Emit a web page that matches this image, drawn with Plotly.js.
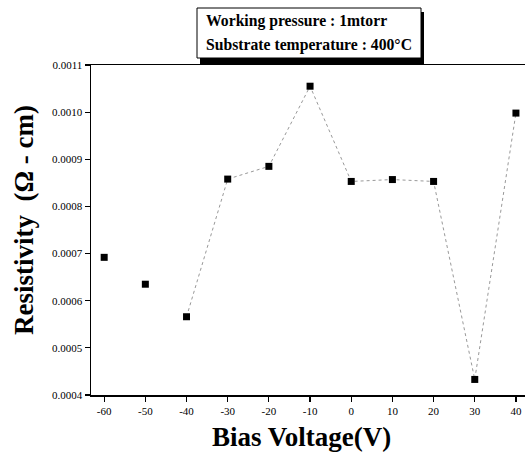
<!DOCTYPE html>
<html>
<head>
<meta charset="utf-8">
<script src="https://cdn.plot.ly/plotly-3.0.1.min.js"></script>
<style>html,body{margin:0;padding:0;background:#fff;}#chart{width:528px;height:454px;}</style>
</head>
<body>
<div id="chart"></div>
<script>
// Data
const isolatedVoltage = [-60, -50];
const isolatedResistivity = [0.000692, 0.000635];
const linkedVoltage = [-40, -30, -20, -10, 0, 10, 20, 30, 40];
const linkedResistivity = [0.000566, 0.000858, 0.000885, 0.001055, 0.000853, 0.000857, 0.000853, 0.000433, 0.000998];
const xTickVals = [-60, -50, -40, -30, -20, -10, 0, 10, 20, 30, 40];
const xTickText = ['-60', '-50', '-40', '-30', '-20', '-10', '0', '10', '20', '30', '40'];
const yTickVals = [0.0004, 0.0005, 0.0006, 0.0007, 0.0008, 0.0009, 0.0010, 0.0011];
const yTickText = ['0.0004', '0.0005', '0.0006', '0.0007', '0.0008', '0.0009', '0.0010', '0.0011'];
const infoLines = ['Working pressure : 1mtorr', 'Substrate temperature : 400°C'];
const xTitle = 'Bias Voltage(V)';
const yTitle = 'Resistivity  (Ω - cm)';

const W = 528, H = 454;
const m = {l: 91, r: 3, t: 65, b: 59};
const pw = W - m.l - m.r, ph = H - m.t - m.b;
const px = v => (v - m.l) / pw;
const py = v => (H - m.b - v) / ph;

const serif = 'Liberation Serif';

const traces = [
  {
    x: isolatedVoltage, y: isolatedResistivity, type: 'scatter', mode: 'markers',
    marker: {symbol: 'square', size: 7, color: '#000'}, showlegend: false, cliponaxis: false
  },
  {
    x: linkedVoltage, y: linkedResistivity, type: 'scatter', mode: 'lines+markers',
    line: {color: '#999', width: 1, dash: 'dot'},
    marker: {symbol: 'square', size: 7, color: '#000'}, showlegend: false, cliponaxis: false
  }
];

const layout = {
  width: W, height: H,
  margin: m,
  paper_bgcolor: '#fff', plot_bgcolor: '#fff',
  font: {family: serif, color: '#000'},
  xaxis: {
    range: [-63.2, 42.2], showgrid: false, zeroline: false,
    showline: true, linecolor: '#000', linewidth: 1.5, mirror: true,
    ticks: 'outside', ticklen: 5, tickwidth: 1.2, tickcolor: '#000',
    tickvals: xTickVals, ticktext: xTickText,
    tickfont: {family: serif, size: 11, color: '#000'}
  },
  yaxis: {
    range: [0.0004, 0.0011], showgrid: false, zeroline: false,
    showline: true, linecolor: '#000', linewidth: 1.5,
    ticks: 'outside', ticklen: 5, tickwidth: 1.2, tickcolor: '#000',
    tickvals: yTickVals, ticktext: yTickText,
    tickfont: {family: serif, size: 11, color: '#000'}
  },
  shapes: [
    {type: 'rect', xref: 'paper', yref: 'paper', x0: px(200), x1: px(424), y0: py(65), y1: py(12),
     fillcolor: '#000', line: {width: 0}, layer: 'above'},
    {type: 'rect', xref: 'paper', yref: 'paper', x0: px(197), x1: px(421), y0: py(58), y1: py(8),
     fillcolor: '#fff', line: {color: '#000', width: 1}, layer: 'above'}
  ],
  annotations: [
    {xref: 'paper', yref: 'paper', x: px(204), y: py(21), xanchor: 'left', yanchor: 'middle',
     text: '<b>' + infoLines[0] + '</b>', showarrow: false, font: {family: serif, size: 15.7, color: '#000'}},
    {xref: 'paper', yref: 'paper', x: px(204), y: py(45), xanchor: 'left', yanchor: 'middle',
     text: '<b>' + infoLines[1] + '</b>', showarrow: false, font: {family: serif, size: 15.7, color: '#000'}},
    {xref: 'paper', yref: 'paper', x: px(301), y: py(437), xanchor: 'center', yanchor: 'middle',
     text: '<b>' + xTitle + '</b>', showarrow: false, font: {family: serif, size: 27, color: '#000'}},
    {xref: 'paper', yref: 'paper', x: px(24), y: py(220), xanchor: 'center', yanchor: 'middle', textangle: -90,
     text: '<b>' + yTitle + '</b>', showarrow: false, font: {family: serif, size: 27, color: '#000'}}
  ]
};

Plotly.newPlot('chart', traces, layout, {displayModeBar: false, staticPlot: true});
</script>
</body>
</html>
